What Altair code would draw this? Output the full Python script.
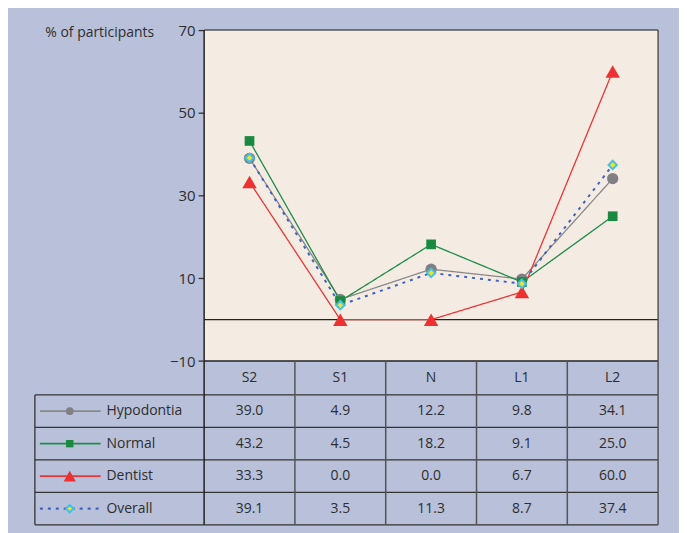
import altair as alt
import pandas as pd

categories = ["S2", "S1", "N", "L1", "L2"]
series_names = ["Hypodontia", "Normal", "Dentist", "Overall"]
hypodontia = [39.0, 4.9, 12.2, 9.8, 34.1]
normal = [43.2, 4.5, 18.2, 9.1, 25.0]
dentist = [33.3, 0.0, 0.0, 6.7, 60.0]
overall = [39.1, 3.5, 11.3, 8.7, 37.4]
y_ticks = [-10, 10, 30, 50, 70]

series_values = [hypodontia, normal, dentist, overall]

FONT = "Open Sans"
TXT = "#2e2e2e"
BEIGE = "#f4ece2"
LAV = "#b8c0da"

styles = {
    "Hypodontia": dict(line="#8a8a8a", dash=[1, 0], lw=1.3, shape="circle", fill="#808084", stroke=None, size=130, lsize=60),
    "Normal": dict(line="#1f8c48", dash=[1, 0], lw=1.3, shape="square", fill="#1a8a40", stroke=None, size=95, lsize=55),
    "Dentist": dict(line="#ee3535", dash=[1, 0], lw=1.3, shape="triangle-up", fill="#ee3030", stroke=None, size=210, lsize=150),
    "Overall": dict(line="#4262c2", dash=[3, 5], lw=2.0, shape="diamond", fill="#f2e620", stroke="#46c0e4", size=70, lsize=55),
}

# geometry in data units
Y_TOP, Y_BOT = 70, -10
HEADER_H = 8.2
ROW_H = 7.85
header_bottom = Y_BOT - HEADER_H
row_edges = [header_bottom - i * ROW_H for i in range(len(series_names) + 1)]
Y_MIN = row_edges[-1]
N = len(categories)
LEG_LEFT = -1.864

xscale = alt.Scale(domain=[0, N], nice=False, zero=False)
yscale = alt.Scale(domain=[Y_MIN, Y_TOP], nice=False, zero=False)
yaxis = alt.Axis(values=y_ticks, domain=False, grid=False, ticks=True, tickSize=6,
                 tickColor="#333333", tickWidth=1.3, labelFontSize=15, labelColor=TXT,
                 labelFont=FONT, labelPadding=3, title="% of participants", titleAngle=0,
                 titleAlign="left", titleBaseline="middle", titleX=-160, titleY=2,
                 titleFont=FONT, titleFontSize=14, titleFontWeight="normal", titleColor=TXT)


def X(f="x"):
    return alt.X(f"{f}:Q", scale=xscale, axis=None)


def Y(f="y"):
    return alt.Y(f"{f}:Q", scale=yscale, axis=yaxis)


layers = []

# plot background
bg = pd.DataFrame([dict(x=0, x2=N, y=Y_BOT, y2=Y_TOP)])
layers.append(alt.Chart(bg).mark_rect(fill=BEIGE).encode(x=X(), x2="x2:Q", y=Y(), y2="y2:Q"))

# grid / table lines
rules = []
rules.append(dict(x=0, x2=N, y=0, y2=0, c="#222222", w=1.2))
rules.append(dict(x=0, x2=N, y=Y_TOP, y2=Y_TOP, c="#555555", w=1.5))
rules.append(dict(x=0, x2=N, y=Y_BOT, y2=Y_BOT, c="#222222", w=1.5))
for e in row_edges:
    rules.append(dict(x=LEG_LEFT, x2=N, y=e, y2=e, c="#333333", w=1.3))
rules.append(dict(x=0, x2=0, y=Y_MIN, y2=Y_TOP, c="#222222", w=1.5))
for i in range(1, N):
    rules.append(dict(x=i, x2=i, y=Y_MIN, y2=Y_BOT, c="#555555", w=1.5))
rules.append(dict(x=N, x2=N, y=Y_MIN, y2=Y_TOP, c="#555555", w=1.5))
rules.append(dict(x=LEG_LEFT, x2=LEG_LEFT, y=Y_MIN, y2=header_bottom, c="#333333", w=1.3))
rdf = pd.DataFrame(rules)
layers.append(alt.Chart(rdf).mark_rule().encode(
    x=X(), x2="x2:Q", y=Y(), y2="y2:Q",
    color=alt.Color("c:N", scale=None),
    strokeWidth=alt.StrokeWidth("w:Q", scale=None)))

# series lines
for name, vals in zip(series_names, series_values):
    s = styles[name]
    df = pd.DataFrame({"x": [i + 0.5 for i in range(N)], "y": vals, "cat": categories})
    layers.append(alt.Chart(df).mark_line(color=s["line"], strokeWidth=s["lw"], strokeDash=s["dash"]).encode(
        x=X(), y=Y(), order="x:Q"))

# series points
for name, vals in zip(series_names, series_values):
    s = styles[name]
    df = pd.DataFrame({"x": [i + 0.5 for i in range(N)], "y": vals, "cat": categories})
    kw = dict(shape=s["shape"], fill=s["fill"], filled=True, size=s["size"], opacity=1)
    if s["stroke"]:
        kw.update(stroke=s["stroke"], strokeWidth=2)
    layers.append(alt.Chart(df).mark_point(**kw).encode(x=X(), y=Y()))

# header text
hdf = pd.DataFrame({"x": [i + 0.5 for i in range(N)], "y": [(Y_BOT + header_bottom) / 2] * N, "t": categories})
layers.append(alt.Chart(hdf).mark_text(font=FONT, fontSize=14, color=TXT, baseline="middle").encode(
    x=X(), y=Y(), text="t:N"))

# table values
cells = []
for r, (name, vals) in enumerate(zip(series_names, series_values)):
    yc = (row_edges[r] + row_edges[r + 1]) / 2
    for i, v in enumerate(vals):
        cells.append(dict(x=i + 0.5, y=yc, t=f"{v:.1f}"))
cdf = pd.DataFrame(cells)
layers.append(alt.Chart(cdf).mark_text(font=FONT, fontSize=14, color=TXT, baseline="middle").encode(
    x=X(), y=Y(), text="t:N"))

# legend column
LINE_X1, LINE_X2, MARK_X, LABEL_X = -1.809, -1.140, -1.48, -1.075
for r, name in enumerate(series_names):
    s = styles[name]
    yc = (row_edges[r] + row_edges[r + 1]) / 2
    ldf = pd.DataFrame([dict(x=LINE_X1, x2=LINE_X2, y=yc, y2=yc)])
    layers.append(alt.Chart(ldf).mark_rule(color=s["line"], strokeWidth=s["lw"] + 0.4, strokeDash=s["dash"]).encode(
        x=X(), x2="x2:Q", y=Y(), y2="y2:Q"))
    mdf = pd.DataFrame([dict(x=MARK_X, y=yc)])
    kw = dict(shape=s["shape"], fill=s["fill"], filled=True, size=s["lsize"], opacity=1)
    if s["stroke"]:
        kw.update(stroke=s["stroke"], strokeWidth=2)
    layers.append(alt.Chart(mdf).mark_point(**kw).encode(x=X(), y=Y()))
    tdf = pd.DataFrame([dict(x=LABEL_X, y=yc, t=name)])
    layers.append(alt.Chart(tdf).mark_text(font=FONT, fontSize=14, color=TXT, align="left", baseline="middle").encode(
        x=X(), y=Y(), text="t:N"))

chart = alt.layer(*layers).properties(
    width=456, height=497,
    background=LAV,
    padding={"left": 26, "top": 14, "right": 20, "bottom": 6},
).configure_view(stroke=None)

chart.save("out.html", embed_options={"renderer": "svg", "actions": False})
